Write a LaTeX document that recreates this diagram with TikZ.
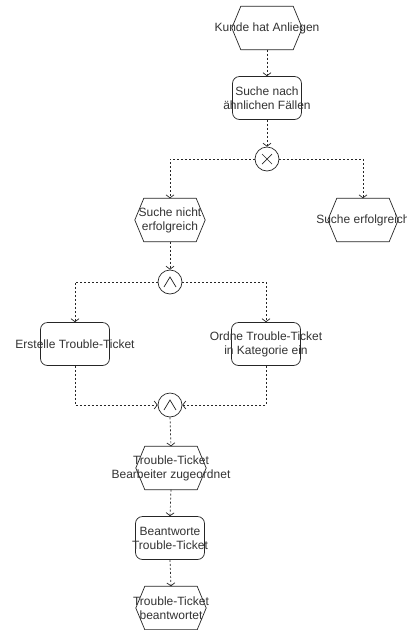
\documentclass[tikz,border=0pt]{standalone}
\usepackage{fontspec}
\setmainfont{Liberation Sans}
\usetikzlibrary{arrows.meta}
\begin{document}
\begin{tikzpicture}[x=1pt,y=-1pt,
  shapeline/.style={draw=black!85, line width=0.7pt},
  hexev/.style={minimum width=70pt, minimum height=43pt, inner sep=0pt},
  funcbox/.style={shapeline, rounded corners=7pt, minimum width=69pt, minimum height=43pt, inner sep=0pt},
  oper/.style={shapeline, circle, minimum size=24pt, inner sep=0pt},
  lbl/.style={font=\fontsize{12}{14}\selectfont, text=black!80, align=center, inner sep=0pt},
  flow/.style={draw=black!85, line width=0.7pt, dash pattern=on 2pt off 2pt,
    -{Straight Barb[length=3pt,width=8pt]}}
]
\useasboundingbox (0,0) rectangle (407,630);
\fill[white] (0,0) rectangle (407,630);

% events (hexagons)
\node[hexev, label={[lbl]center:Kunde hat Anliegen}] (e1) at (267,28) {};
\node[hexev, label={[lbl]center:{Suche nicht\\erfolgreich}}] (e2) at (170,220) {};
\node[hexev, label={[lbl]center:Suche erfolgreich}] (e3) at (363,220) {};
\node[hexev, label={[lbl]center:{Trouble-Ticket\\Bearbeiter zugeordnet}}] (e4) at (171,468) {};
\node[hexev, label={[lbl]center:{Trouble-Ticket\\beantwortet}}] (e5) at (171,608) {};
\foreach \n in {e1,e2,e3,e4,e5}
  \draw[shapeline] (\n.west) -- ([xshift=9pt]\n.north west) -- ([xshift=-9pt]\n.north east)
    -- (\n.east) -- ([xshift=-9pt]\n.south east) -- ([xshift=9pt]\n.south west) -- cycle;

% functions (rounded boxes)
\node[funcbox, label={[lbl]center:{Suche nach\\ähnlichen Fällen}}] (f1) at (267,98) {};
\node[funcbox, label={[lbl]center:Erstelle Trouble-Ticket}] (f2) at (75,344) {};
\node[funcbox, label={[lbl]center:{Ordne Trouble-Ticket\\in Kategorie ein}}] (f3) at (266,344) {};
\node[funcbox, label={[lbl]center:{Beantworte\\Trouble-Ticket}}] (f4) at (170,538) {};

% operators
\node[oper] (x1) at (267,159) {};
\draw[shapeline] ([shift={(-5pt,-5pt)}]x1.center) -- ([shift={(5pt,5pt)}]x1.center)
  ([shift={(-5pt,5pt)}]x1.center) -- ([shift={(5pt,-5pt)}]x1.center);
\node[oper] (a1) at (170,282) {};
\node[oper] (a2) at (170,405) {};
\foreach \n in {a1,a2}
  \draw[shapeline] ([shift={(-6pt,-5pt)}]\n.center) -- ([shift={(0pt,5pt)}]\n.center) -- ([shift={(6pt,-5pt)}]\n.center);

% connectors
\draw[flow] (e1.south) -- (f1.north);
\draw[flow] (f1.south) -- (x1.north);
\draw[flow] (x1.west) -| (e2.north);
\draw[flow] (x1.east) -| (e3.north);
\draw[flow] (e2.south) -- (a1.north);
\draw[flow] (a1.west) -| (f2.north);
\draw[flow] (a1.east) -| (f3.north);
\draw[flow] (f2.south) |- (a2.west);
\draw[flow] (f3.south) |- (a2.east);
\draw[flow] (a2.south) -- (e4.north);
\draw[flow] (e4.south) -- (f4.north);
\draw[flow] (f4.south) -- (e5.north);
\end{tikzpicture}
\end{document}
